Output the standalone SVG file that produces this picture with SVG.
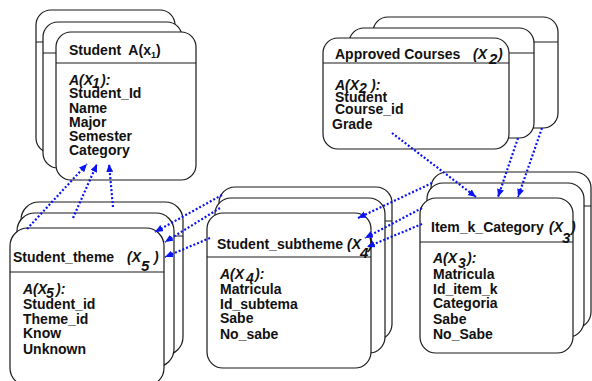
<svg xmlns="http://www.w3.org/2000/svg" width="592" height="381" viewBox="0 0 592 381">
  <defs>
    <style>
      .card { fill: #ffffff; stroke: #1a1a1a; stroke-width: 1.2; }
      .sep { stroke: #1a1a1a; stroke-width: 1.2; }
      text { font-family: "Liberation Sans", Arial, sans-serif; font-weight: bold; font-size: 14px; fill: #111111; }
      .it { font-style: italic; }
      .sub { font-size: 9px; }
      .big { font-size: 15px; font-style: italic; }
      .link { fill: none; stroke: #0a14f0; stroke-width: 2.2; stroke-dasharray: 2 2; marker-end: url(#tip); }
    </style>
    <marker id="tip" markerUnits="userSpaceOnUse" markerWidth="9" markerHeight="8" refX="8" refY="3.5" orient="auto">
      <path d="M0,0 L8,3.5 L0,7 z" fill="#0a14f0"/>
    </marker>
  </defs>

  <!-- Student entity -->
  <g id="student">
    <rect class="card" x="36" y="10" width="139" height="143" rx="15"/>
    <line class="sep" x1="36" y1="42" x2="175" y2="42"/>
    <rect class="card" x="43" y="22" width="139" height="146" rx="15"/>
    <line class="sep" x1="43" y1="53" x2="182" y2="53"/>
    <rect class="card" x="56" y="32" width="140" height="148" rx="15"/>
    <line class="sep" x1="56" y1="63" x2="196" y2="63"/>
    <text x="69" y="55" xml:space="preserve">Student  A(x<tspan class="sub" dy="3">1</tspan><tspan dy="-3">)</tspan></text>
    <text x="69" y="85" class="it">A(X<tspan x="92" dy="3">1</tspan><tspan x="101" dy="-3">):</tspan></text>
    <text x="69" y="98">Student_Id</text>
    <text x="69" y="113">Name</text>
    <text x="69" y="127">Major</text>
    <text x="69" y="141">Semester</text>
    <text x="69" y="155">Category</text>
  </g>

  <!-- Approved Courses entity -->
  <g id="approved-courses">
    <rect class="card" x="373" y="17" width="185" height="111" rx="15"/>
    <line class="sep" x1="373" y1="42" x2="558" y2="42"/>
    <rect class="card" x="349" y="28" width="185" height="110" rx="15"/>
    <line class="sep" x1="349" y1="53" x2="534" y2="53"/>
    <rect class="card" x="323" y="38" width="186" height="111" rx="15"/>
    <line class="sep" x1="323" y1="63" x2="509" y2="63"/>
    <text x="335" y="59">Approved Courses</text>
    <text x="473" y="59" class="it">(X<tspan class="big" x="489" y="64">2</tspan><tspan x="498" y="59">)</tspan></text>
    <text x="335" y="90" class="it">A(X<tspan x="359" dy="3">2</tspan><tspan x="371" dy="-3">):</tspan></text>
    <text x="335" y="102">Student</text>
    <text x="335" y="114">Course_id</text>
    <text x="332" y="129">Grade</text>
  </g>

  <!-- Student_theme entity -->
  <g id="student-theme">
    <rect class="card" x="21" y="202" width="162" height="153" rx="18"/>
    <line class="sep" x1="21" y1="236" x2="183" y2="236"/>
    <rect class="card" x="17" y="213" width="157" height="154" rx="18"/>
    <rect class="card" x="10" y="228" width="154" height="158" rx="18"/>
    <line class="sep" x1="10" y1="272" x2="164" y2="272"/>
    <text x="13" y="262">Student_theme</text>
    <text x="127" y="262" class="it">(X<tspan class="big" x="141" y="271">5</tspan><tspan x="154" y="262">)</tspan></text>
    <text x="23" y="294" class="it">A(X<tspan x="46" dy="4">5</tspan><tspan x="56" dy="-4">):</tspan></text>
    <text x="23" y="309">Student_id</text>
    <text x="23" y="324">Theme_id</text>
    <text x="23" y="338">Know</text>
    <text x="23" y="354">Unknown</text>
  </g>

  <!-- Student_subtheme entity -->
  <g id="student-subtheme">
    <rect class="card" x="219" y="187" width="173" height="153" rx="16"/>
    <line class="sep" x1="219" y1="221" x2="392" y2="221"/>
    <rect class="card" x="215" y="198" width="170" height="155" rx="16"/>
    <rect class="card" x="207" y="213" width="164" height="155" rx="16"/>
    <line class="sep" x1="207" y1="257" x2="371" y2="257"/>
    <text x="217" y="249">Student_subtheme</text>
    <text x="347" y="249" class="it">(X<tspan class="big" x="360" y="258">4</tspan><tspan x="368" y="249">)</tspan></text>
    <text x="220" y="279" class="it">A(X<tspan x="246" dy="4">4</tspan><tspan x="255" dy="-4">):</tspan></text>
    <text x="220" y="294">Matricula</text>
    <text x="220" y="309">Id_subtema</text>
    <text x="220" y="323">Sabe</text>
    <text x="220" y="339">No_sabe</text>
  </g>

  <!-- Item_k_Category entity -->
  <g id="item-k-category">
    <rect class="card" x="431" y="172" width="160" height="156" rx="16"/>
    <line class="sep" x1="431" y1="206" x2="591" y2="206"/>
    <rect class="card" x="427" y="183" width="157" height="154" rx="16"/>
    <rect class="card" x="420" y="198" width="153" height="155" rx="16"/>
    <line class="sep" x1="420" y1="242" x2="573" y2="242"/>
    <text x="431" y="232">Item_k_Category</text>
    <text x="549" y="232" class="it">(X<tspan class="big" x="562" y="243">3</tspan><tspan x="571" y="232">)</tspan></text>
    <text x="433" y="263" class="it">A(X<tspan x="458" dy="5">3</tspan><tspan x="467" dy="-5">):</tspan></text>
    <text x="433" y="279">Matricula</text>
    <text x="433" y="294">Id_item_k</text>
    <text x="433" y="308">Categoria</text>
    <text x="433" y="324">Sabe</text>
    <text x="433" y="339">No_Sabe</text>
  </g>

  <!-- Dotted links between entities -->
  <g id="connectors">
    <line class="link" x1="27" y1="229" x2="87" y2="164"/>
    <line class="link" x1="73" y1="218" x2="97" y2="164"/>
    <line class="link" x1="113" y1="207" x2="109" y2="164"/>
    <line class="link" x1="222" y1="195" x2="155" y2="232"/>
    <line class="link" x1="220" y1="208" x2="165" y2="242"/>
    <line class="link" x1="210" y1="238" x2="165" y2="257"/>
    <line class="link" x1="432" y1="183" x2="358" y2="218"/>
    <line class="link" x1="422" y1="208" x2="365" y2="238"/>
    <line class="link" x1="422" y1="224" x2="367" y2="247"/>
    <line class="link" x1="392" y1="133" x2="476" y2="197"/>
    <line class="link" x1="518" y1="138" x2="498" y2="197"/>
    <line class="link" x1="542" y1="128" x2="518" y2="197"/>
  </g>
</svg>
